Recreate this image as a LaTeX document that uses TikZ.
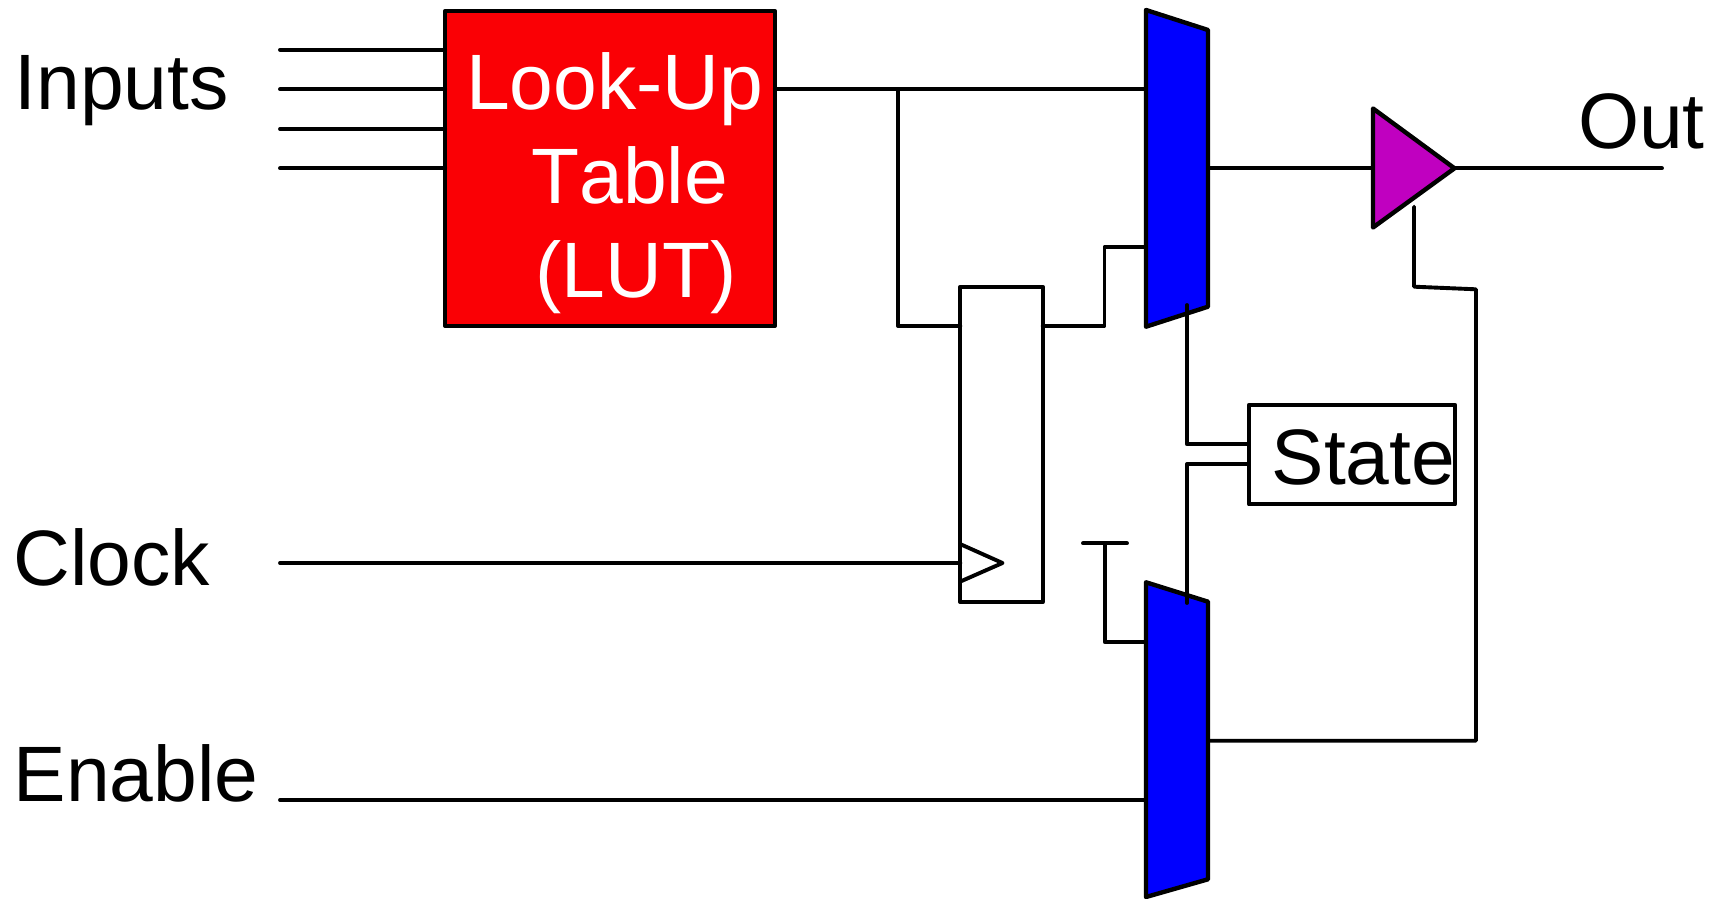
\documentclass[tikz,border=0pt]{standalone}
\usepackage{fontspec}
\setmainfont[Kerning=Off]{Liberation Sans}
\definecolor{lutred}{RGB}{250,0,5}
\definecolor{muxblue}{RGB}{0,0,255}
\definecolor{bufmag}{RGB}{192,0,192}
\tikzset{
  wire/.style={line width=1.95pt,line cap=round,line join=round},
  part/.style={draw=black,line width=2.1pt,line join=round,rectangle,inner sep=0pt,outer sep=0pt},
  solid part/.style={draw=black,line width=2.2pt,line join=round},
  lbl/.style={inner sep=0pt,outer sep=0pt,anchor=base west,font=\fontsize{39.3}{47.25}\selectfont}
}
\begin{document}
\begin{tikzpicture}[x=0.5pt,y=-0.5pt]
\useasboundingbox (0,0) rectangle (1721,899);
% named points
\coordinate (i1) at (280,49.7);
\coordinate (i2) at (280,89.3);
\coordinate (i3) at (280,129);
\coordinate (i4) at (280,168.3);
\coordinate (tl) at (1146,10);
\coordinate (tr) at (1208,30);
\coordinate (br) at (1208,306.7);
\coordinate (bl) at (1146,326.7);
\coordinate (ml) at (1146,582.3);
\coordinate (mr) at (1208,601.7);
\coordinate (mbr) at (1208,879.3);
\coordinate (mbl) at (1146,897);
\coordinate (cks) at (280,563);
\coordinate (ens) at (280,800);
\coordinate (b1) at (1373,108.5);
\coordinate (b2) at (1454.5,168.3);
\coordinate (b3) at (1373,227.5);
\coordinate (ot) at (1662,168.3);
\coordinate (ctl) at (1414,206.7);
\coordinate (ca) at (1414,286.7);
\coordinate (cb) at (1476,289.3);
\coordinate (cc) at (1476,740.7);
\coordinate (j) at (898,89.3);
\coordinate (jb) at (898,326);
\coordinate (ffq) at (1104.5,326);
\coordinate (ffr) at (1104.5,247);
\coordinate (sa) at (1187,305);
\coordinate (sb) at (1187,444.3);
\coordinate (sc) at (1187,464);
\coordinate (sd) at (1187,603);
\coordinate (tbl) at (1083,543.3);
\coordinate (tbr) at (1127,543.3);
\coordinate (tb) at (1105,543.3);
\coordinate (tc) at (1105,642.3);
\coordinate (ck1) at (960,544);
\coordinate (ck2) at (1002.5,563);
\coordinate (ck3) at (960,581.7);
% blocks
\node[part,fill=lutred,minimum width=164.8pt,minimum height=157.6pt] (lut) at (610,168.4) {};
\node[part,fill=white,minimum width=41.2pt,minimum height=157.6pt] (ff) at (1001.5,444.3) {};
\node[part,fill=white,minimum width=103pt,minimum height=49.65pt] (state) at (1352,454.65) {};
\draw[solid part,fill=muxblue] (tl) -- (tr) -- (br) -- (bl) -- cycle;
\draw[solid part,fill=muxblue] (ml) -- (mr) -- (mbr) -- (mbl) -- cycle;
\draw[solid part,fill=bufmag] (b1) -- (b2) -- (b3) -- cycle;
% connectors
\draw[wire] (i1) -- (lut.west |- i1);
\draw[wire] (i2) -- (lut.west |- i2);
\draw[wire] (i3) -- (lut.west |- i3);
\draw[wire] (i4) -- (lut.west |- i4);
\draw[wire] (lut.east |- j) -- (tl |- j);
\draw[wire] (j) -- (jb) -- (ff.west |- jb);
\draw[wire] (ff.east |- ffq) -- (ffq) -- (ffr) -- (tl |- ffr);
\draw[wire] (tr |- i4) -- (b1 |- i4);
\draw[wire] (b2) -- (ot);
\draw[wire] (ctl) -- (ca) -- (cb) -- (cc) -- (mr |- cc);
\draw[wire] (sa) -- (sb) -- (state.west |- sb);
\draw[wire] (state.west |- sc) -- (sc) -- (sd);
\draw[wire] (tbl) -- (tbr);
\draw[wire] (tb) -- (tc) -- (ml |- tc);
\draw[wire] (cks) -- (ff.west |- cks);
\draw[wire] (ens) -- (ml |- ens);
\draw[wire] (ck1) -- (ck2) -- (ck3);
% labels
\node[lbl] (tinputs) at (14.7,109.3) {Inputs};
\node[lbl] (tclock) at (13.3,585) {Clock};
\node[lbl] (tenable) at (13.8,801) {Enable};
\node[lbl] (tout) at (1578,148.3) {Out};
\node[lbl] (tstate) at (1271.7,484.3) {State};
\node[lbl,text=white,align=left] (tlut) at (466,298) {Look-Up\\\hspace*{32.75pt}Table\\\hspace*{34.7pt}(LUT)};
\end{tikzpicture}
\end{document}
